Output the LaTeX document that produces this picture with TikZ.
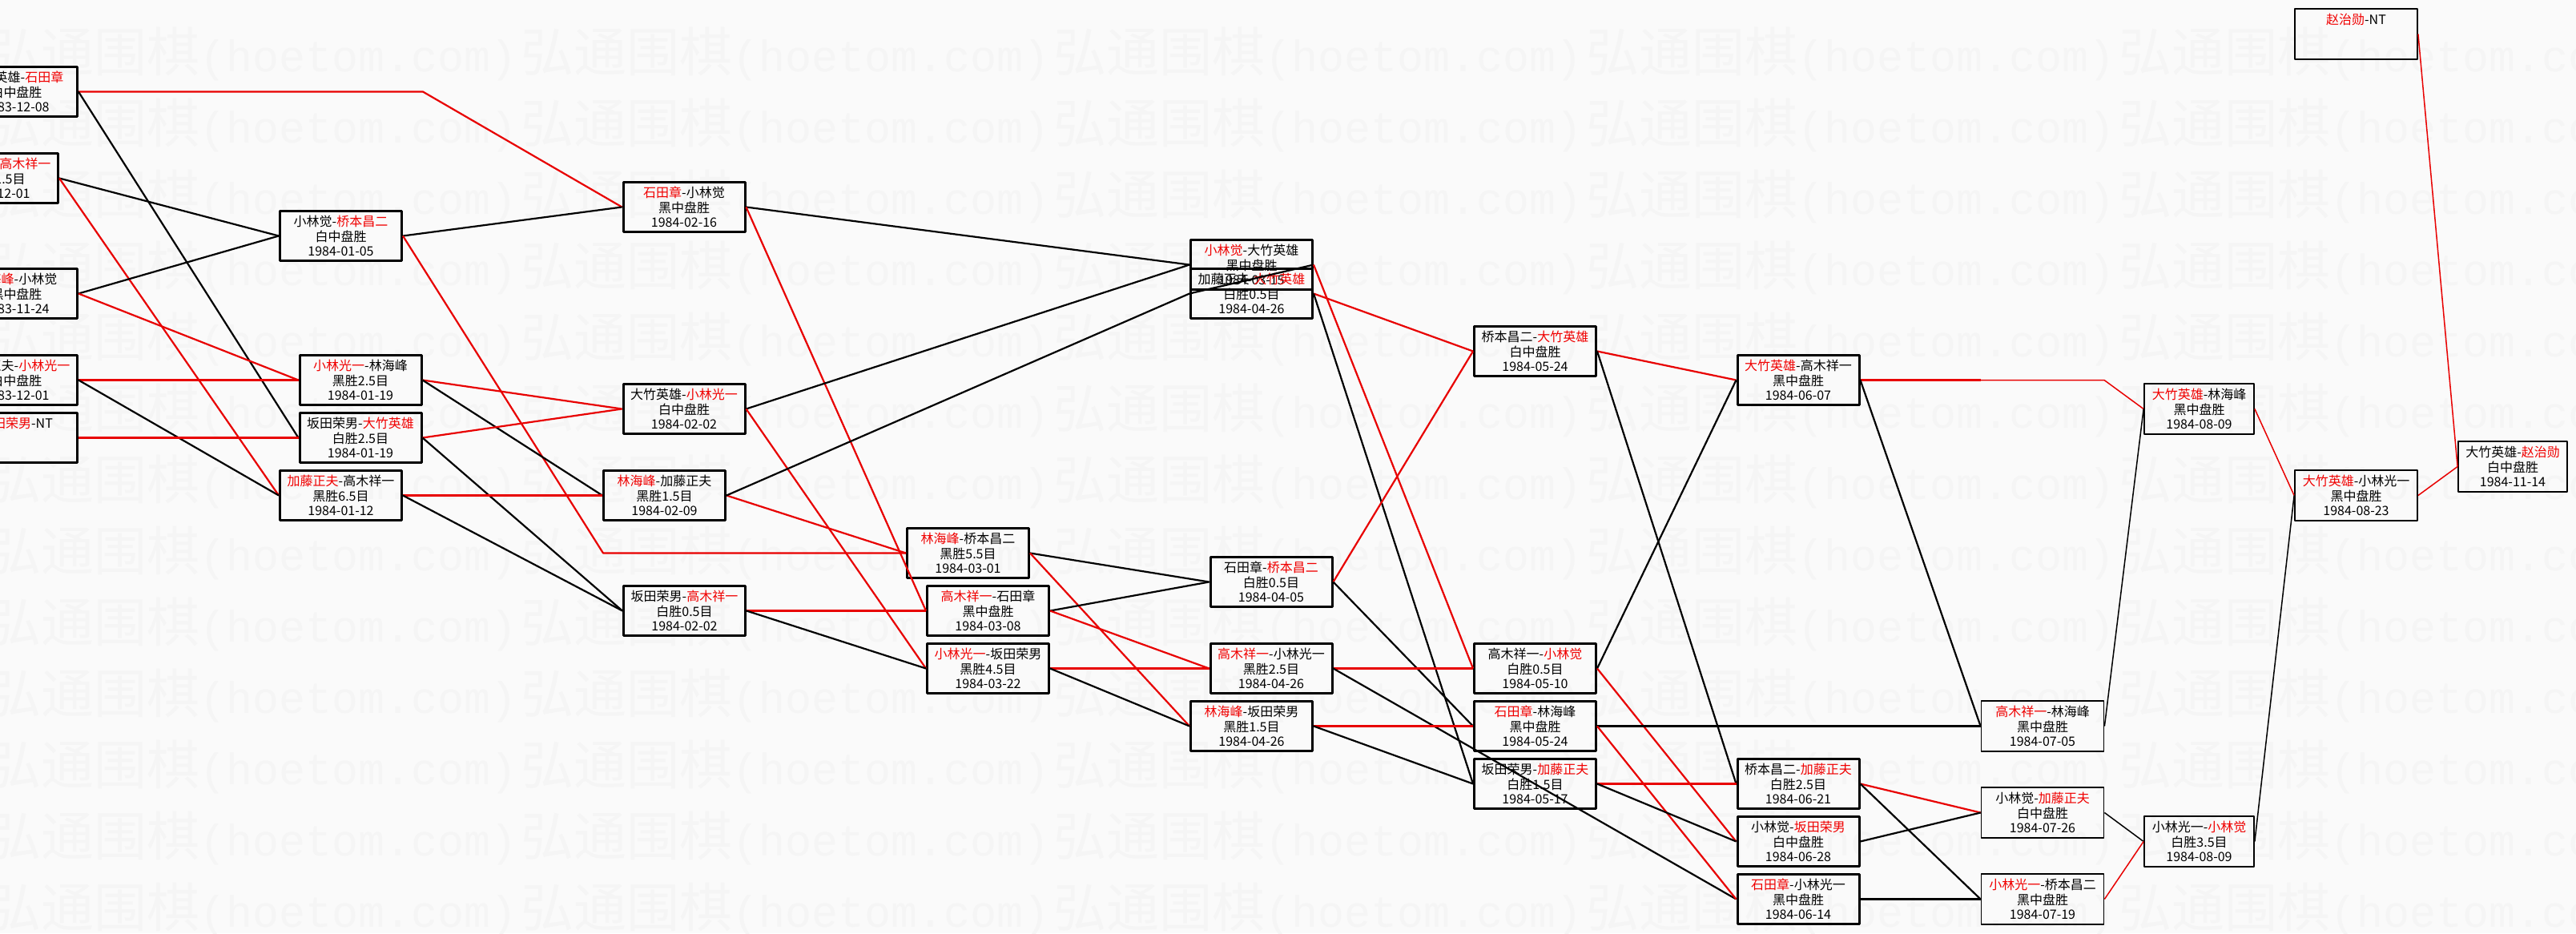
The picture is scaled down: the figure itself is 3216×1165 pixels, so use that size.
\documentclass[tikz,border=0pt]{standalone}
\usepackage{fontspec}
\newfontfamily\cjk{Noto Sans CJK SC}
\newfontfamily\wmmono{Liberation Mono}
\definecolor{lred}{RGB}{232,0,0}
\definecolor{tred}{RGB}{240,0,0}
\definecolor{bgc}{RGB}{250,250,250}
\definecolor{wmc}{RGB}{245,245,245}
\newcommand{\redname}[1]{\textcolor{tred}{#1}}
\begin{document}
\begin{tikzpicture}[x=1pt,y=-1pt,line join=round,
  game/.style={draw=black,line width=3pt,minimum width=152pt,minimum height=62pt,inner sep=0pt,align=center,font=\cjk\fontsize{16}{18.75}\selectfont},
  gamethin/.style={game,line width=1.8pt,minimum width=153pt,minimum height=63pt},
  wmk/.style={text=wmc,inner sep=0pt,anchor=west,font=\fontsize{66}{70}\selectfont},
  wl/.style={draw=lred,line width=2.2pt},
  ll/.style={draw=black,line width=2.2pt},
  wlt/.style={draw=lred,line width=1.5pt},
  llt/.style={draw=black,line width=1.5pt}]
\useasboundingbox (0,0) rectangle (3216,1165);
\clip (0,0) rectangle (3216,1165);
\fill[bgc] (0,0) rectangle (3216,1165);
% watermark
\foreach \r in {0,...,12}{
  \foreach \c in {0,...,4}{
    \node[wmk] (wm-\r-\c) at (-15+665*\c,67+89*\r) {{\cjk 弘通围棋}{\wmmono\fontsize{55}{60}\selectfont (hoetom.com)}};
  }
}
% column 0
\node[game] (n0a) at (20.5,114.5) {大竹英雄-\redname{石田章}\\白中盘胜\\1983-12-08};
\node[game] (n0b) at (-3.5,222.5) {桥本昌二-\redname{高木祥一}\\白胜1.5目\\1983-12-01};
\node[game] (n0c) at (20.5,366.5) {\redname{林海峰}-小林觉\\黑中盘胜\\1983-11-24};
\node[game] (n0d) at (20.5,474.5) {加藤正夫-\redname{小林光一}\\白中盘胜\\1983-12-01};
\node[game] (n0e) at (20.5,546.5) {\redname{坂田荣男}-NT\\~\\~};
% column 1
\node[game] (c1a) at (425.5,294.5) {小林觉-\redname{桥本昌二}\\白中盘胜\\1984-01-05};
\node[game] (c1b) at (450,474.5) {\redname{小林光一}-林海峰\\黑胜2.5目\\1984-01-19};
\node[game] (c1c) at (450,546.5) {坂田荣男-\redname{大竹英雄}\\白胜2.5目\\1984-01-19};
\node[game] (c1d) at (425.5,618.5) {\redname{加藤正夫}-高木祥一\\黑胜6.5目\\1984-01-12};
% column 2
\node[game] (c2a) at (854,258.5) {\redname{石田章}-小林觉\\黑中盘胜\\1984-02-16};
\node[game] (c2b) at (854,510.5) {大竹英雄-\redname{小林光一}\\白中盘胜\\1984-02-02};
\node[game] (c2c) at (829.5,618.5) {\redname{林海峰}-加藤正夫\\黑胜1.5目\\1984-02-09};
\node[game] (c2d) at (854.5,762.5) {坂田荣男-\redname{高木祥一}\\白胜0.5目\\1984-02-02};
% column 3
\node[game] (c3a) at (1208.5,690.5) {\redname{林海峰}-桥本昌二\\黑胜5.5目\\1984-03-01};
\node[game] (c3b) at (1233.5,762.5) {\redname{高木祥一}-石田章\\黑中盘胜\\1984-03-08};
\node[game] (c3c) at (1233.5,834.5) {\redname{小林光一}-坂田荣男\\黑胜4.5目\\1984-03-22};
% column 4
\node[game] (c4a) at (1562.5,330.5) {\redname{小林觉}-大竹英雄\\黑中盘胜\\1984-03-15};
\node[game] (c4b) at (1562.5,366.5) {加藤正夫-\redname{大竹英雄}\\白胜0.5目\\1984-04-26};
\node[game] (c4c) at (1587,726.5) {石田章-\redname{桥本昌二}\\白胜0.5目\\1984-04-05};
\node[game] (c4d) at (1587,834.5) {\redname{高木祥一}-小林光一\\黑胜2.5目\\1984-04-26};
\node[game] (c4e) at (1562.5,906.5) {\redname{林海峰}-坂田荣男\\黑胜1.5目\\1984-04-26};
% column 5
\node[game] (c5a) at (1916.5,438.5) {桥本昌二-\redname{大竹英雄}\\白中盘胜\\1984-05-24};
\node[game] (c5b) at (1916.5,834.5) {高木祥一-\redname{小林觉}\\白胜0.5目\\1984-05-10};
\node[game] (c5c) at (1916.5,906.5) {\redname{石田章}-林海峰\\黑中盘胜\\1984-05-24};
\node[game] (c5d) at (1916.5,978.5) {坂田荣男-\redname{加藤正夫}\\白胜1.5目\\1984-05-17};
% column 6
\node[game] (c6a) at (2245,474.5) {\redname{大竹英雄}-高木祥一\\黑中盘胜\\1984-06-07};
\node[game] (c6b) at (2245,978.5) {桥本昌二-\redname{加藤正夫}\\白胜2.5目\\1984-06-21};
\node[game] (c6c) at (2245,1050.5) {小林觉-\redname{坂田荣男}\\白中盘胜\\1984-06-28};
\node[game] (c6d) at (2245,1122.5) {\redname{石田章}-小林光一\\黑中盘胜\\1984-06-14};
% column 7
\node[gamethin] (c7a) at (2550,906.5) {\redname{高木祥一}-林海峰\\黑中盘胜\\1984-07-05};
\node[gamethin] (c7b) at (2550,1014.5) {小林觉-\redname{加藤正夫}\\白中盘胜\\1984-07-26};
\node[gamethin] (c7c) at (2550,1122.5) {\redname{小林光一}-桥本昌二\\黑中盘胜\\1984-07-19};
% column 8
\node[gamethin,minimum width=137pt] (c8a) at (2745.5,510.5) {\redname{大竹英雄}-林海峰\\黑中盘胜\\1984-08-09};
\node[gamethin,minimum width=137pt] (c8b) at (2745.5,1050.5) {小林光一-\redname{小林觉}\\白胜3.5目\\1984-08-09};
% column 9
\node[gamethin] (c9a) at (2941.5,42.5) {\redname{赵治勋}-NT\\~\\~};
\node[gamethin] (c9b) at (2941.5,618.5) {\redname{大竹英雄}-小林光一\\黑中盘胜\\1984-08-23};
% column 10
\node[gamethin,minimum width=136pt] (c10) at (3137,582.5) {大竹英雄-\redname{赵治勋}\\白中盘胜\\1984-11-14};
% bypass points
\coordinate (bp1) at (528,114.5);
\coordinate (bp2) at (753,690.5);
\coordinate (bp3a) at (2473,474.5);
\coordinate (bp3) at (2627,474.5);
% connectors
\draw[wl] (n0a.east) -- (bp1) -- (c2a.west);
\draw[ll] (n0a.east) -- (c1c.west);
\draw[ll] (n0b.east) -- (c1a.west);
\draw[wl] (n0b.east) -- (c1d.west);
\draw[ll] (n0c.east) -- (c1a.west);
\draw[wl] (n0c.east) -- (c1b.west);
\draw[wl] (n0d.east) -- (c1b.west);
\draw[ll] (n0d.east) -- (c1d.west);
\draw[wl] (n0e.east) -- (c1c.west);
\draw[ll] (c1a.east) -- (c2a.west);
\draw[wl] (c1a.east) -- (bp2) -- (c3a.west);
\draw[wl] (c1b.east) -- (c2b.west);
\draw[ll] (c1b.east) -- (c2c.west);
\draw[wl] (c1c.east) -- (c2b.west);
\draw[ll] (c1c.east) -- (c2d.west);
\draw[wl] (c1d.east) -- (c2c.west);
\draw[ll] (c1d.east) -- (c2d.west);
\draw[ll] (c2a.east) -- (c4a.west);
\draw[wl] (c2a.east) -- (c3b.west);
\draw[ll] (c2b.east) -- (c4a.west);
\draw[wl] (c2b.east) -- (c3c.west);
\draw[wl] (c2c.east) -- (c3a.west);
\draw[ll] (c2c.east) -- (c4b.west);
\draw[wl] (c2d.east) -- (c3b.west);
\draw[ll] (c2d.east) -- (c3c.west);
\draw[ll] (c3a.east) -- (c4c.west);
\draw[wl] (c3a.east) -- (c4e.west);
\draw[ll] (c3b.east) -- (c4c.west);
\draw[wl] (c3b.east) -- (c4d.west);
\draw[wl] (c3c.east) -- (c4d.west);
\draw[ll] (c3c.east) -- (c4e.west);
\draw[ll] (c4a.east) -- (c4b.west);
\draw[wl] (c4a.east) -- (c5b.west);
\draw[wl] (c4b.east) -- (c5a.west);
\draw[ll] (c4b.east) -- (c5d.west);
\draw[wl] (c4c.east) -- (c5a.west);
\draw[ll] (c4c.east) -- (c5c.west);
\draw[wl] (c4d.east) -- (c5b.west);
\draw[ll] (c4d.east) -- (c6d.west);
\draw[wl] (c4e.east) -- (c5c.west);
\draw[ll] (c4e.east) -- (c5d.west);
\draw[wl] (c5a.east) -- (c6a.west);
\draw[ll] (c5a.east) -- (c6b.west);
\draw[ll] (c5b.east) -- (c6a.west);
\draw[wl] (c5b.east) -- (c6c.west);
\draw[ll] (c5c.east) -- (c7a.west);
\draw[wl] (c5c.east) -- (c6d.west);
\draw[wl] (c5d.east) -- (c6b.west);
\draw[ll] (c5d.east) -- (c6c.west);
\draw[wl] (c6a.east) -- (bp3a);
\draw[wlt] (bp3a) -- (bp3) -- (c8a.west);
\draw[ll] (c6a.east) -- (c7a.west);
\draw[wl] (c6b.east) -- (c7b.west);
\draw[ll] (c6b.east) -- (c7c.west);
\draw[ll] (c6c.east) -- (c7b.west);
\draw[ll] (c6d.east) -- (c7c.west);
\draw[llt] (c7a.east) -- (c8a.west);
\draw[llt] (c7b.east) -- (c8b.west);
\draw[wlt] (c7c.east) -- (c8b.west);
\draw[wlt] (c8a.east) -- (c9b.west);
\draw[llt] (c8b.east) -- (c9b.west);
\draw[wlt] (c9a.east) -- (c10.west);
\draw[wlt] (c9b.east) -- (c10.west);
\end{tikzpicture}
\end{document}
